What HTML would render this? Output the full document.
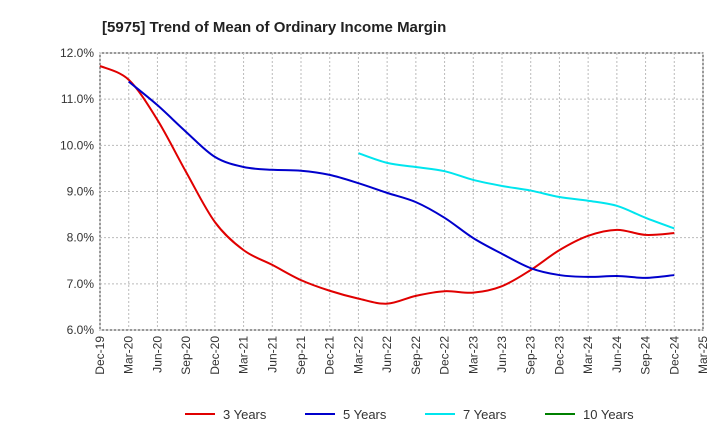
<!DOCTYPE html>
<html><head><meta charset="utf-8"><style>
body{margin:0;background:#fff;font-family:"Liberation Sans",sans-serif}
svg text{font-family:"Liberation Sans",sans-serif}
</style></head><body>
<svg id="c" width="720" height="440">
<text x="102" y="32" font-size="15" font-weight="bold" fill="#222">[5975]  Trend of Mean of Ordinary Income Margin</text>
<g id="grid"></g><g id="series"></g><g id="legend"></g>
</svg>
<script>
const categories=["Dec-19","Mar-20","Jun-20","Sep-20","Dec-20","Mar-21","Jun-21","Sep-21","Dec-21","Mar-22","Jun-22","Sep-22","Dec-22","Mar-23","Jun-23","Sep-23","Dec-23","Mar-24","Jun-24","Sep-24","Dec-24","Mar-25"];
const yTicks=[6,7,8,9,10,11,12];
const s3=[11.72,11.42,10.55,9.42,8.34,7.73,7.41,7.08,6.85,6.68,6.57,6.74,6.84,6.81,6.95,7.3,7.73,8.04,8.17,8.06,8.1];
const s5=[null,11.38,10.87,10.29,9.75,9.53,9.47,9.45,9.36,9.18,8.97,8.77,8.43,7.99,7.65,7.34,7.19,7.15,7.17,7.13,7.19];
const s7=[null,null,null,null,null,null,null,null,null,9.83,9.62,9.53,9.44,9.25,9.12,9.02,8.88,8.8,8.69,8.43,8.2];
const s10=[];
const names=["3 Years","5 Years","7 Years","10 Years"];
const colors=["#e00000","#0000cc","#00e5ee","#008000"];
const L=100,R=703,T=53,B=330;
const x=i=>L+i*(R-L)/(categories.length-1);
const y=v=>T+(12-v)*(B-T)/6;
const NS="http://www.w3.org/2000/svg";
function mk(p,t,a){const e=document.createElementNS(NS,t);for(const k in a)e.setAttribute(k,a[k]);p.appendChild(e);return e;}
const g=document.getElementById('grid');
const frame=mk(g,'rect',{x:L,y:T,width:R-L,height:B-T,fill:'none',stroke:'#333'});


yTicks.forEach(v=>{
 const l=mk(g,'line',{x1:L,x2:R,y1:y(v),y2:y(v),stroke:'#bbb','stroke-dasharray':'2,2'});
 
 
 const t=mk(g,'text',{x:L-6,y:y(v)+4,'text-anchor':'end','font-size':12,fill:'#333'});
 t.textContent=v.toFixed(1)+'%';
 
 
});
categories.forEach((c,i)=>{
 const l=mk(g,'line',{x1:x(i),x2:x(i),y1:T,y2:B,stroke:'#bbb','stroke-dasharray':'2,2'});
 
 
 const t=mk(g,'text',{transform:`translate(${x(i)+4},${B+6}) rotate(-90)`,'text-anchor':'end','font-size':12,fill:'#333'});
 t.textContent=c;
 
 
});
function path(arr){
 const p=[];arr.forEach((v,i)=>{if(v!=null)p.push([x(i),y(v)]);});
 if(p.length<2)return '';
 let d=`M${p[0][0]},${p[0][1]}`;
 for(let i=0;i<p.length-1;i++){
  const p0=p[i-1]||p[i],p1=p[i],p2=p[i+1],p3=p[i+2]||p2;
  const c1=[p1[0]+(p2[0]-p0[0])/6,p1[1]+(p2[1]-p0[1])/6];
  const c2=[p2[0]-(p3[0]-p1[0])/6,p2[1]-(p3[1]-p1[1])/6];
  d+=`C${c1[0]},${c1[1]} ${c2[0]},${c2[1]} ${p2[0]},${p2[1]}`;
 }
 return d;
}
const sg=document.getElementById('series');
[s3,s5,s7,s10].forEach((s,k)=>{
 const d=path(s);if(!d)return;
 const e=mk(sg,'path',{d:d,fill:'none',stroke:colors[k],'stroke-width':2});
 
 
});
const lg=document.getElementById('legend');
const lx=[185,305,425,545];
names.forEach((n,k)=>{
 const l=mk(lg,'line',{x1:lx[k],x2:lx[k]+30,y1:414,y2:414,stroke:colors[k],'stroke-width':2});
 
 
 const t=mk(lg,'text',{x:lx[k]+38,y:419,'font-size':13,fill:'#333'});
 t.textContent=n;
 
 
});
</script>
</body></html>
